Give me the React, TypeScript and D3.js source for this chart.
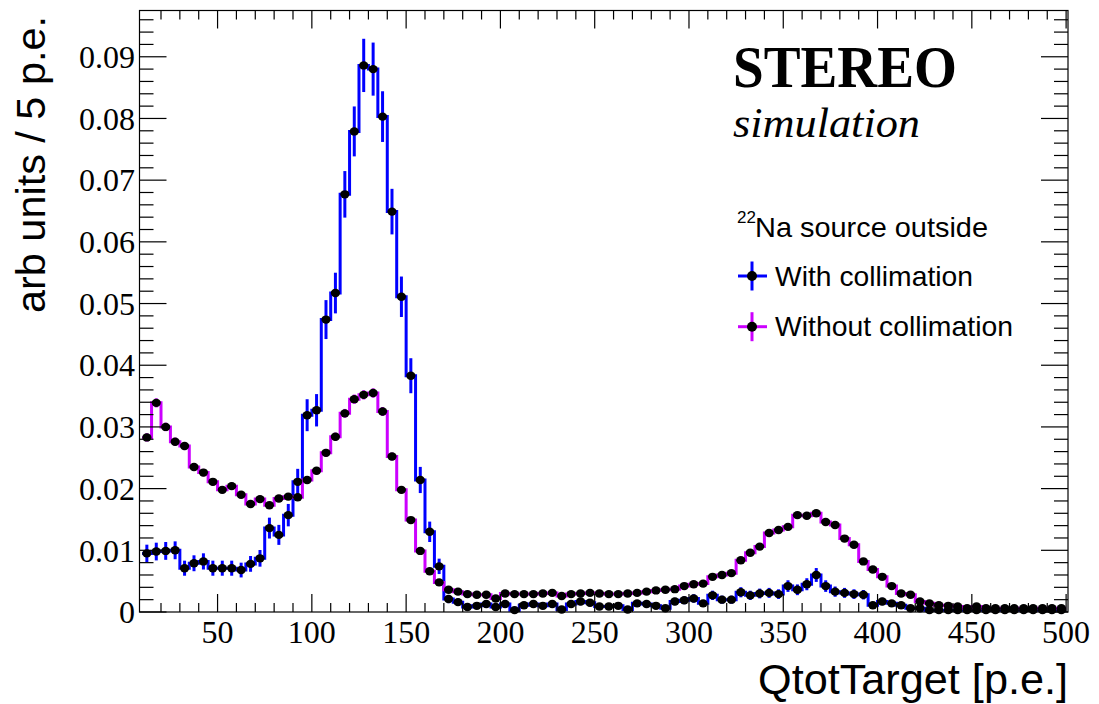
import React from 'react';
import * as d3 from 'd3';

// histogram binning: 5 p.e. bins starting at 10 p.e.
const binStart = 10;
const binWidth = 5;

// "With collimation" (blue), one value per 5 p.e. bin, 10 -> 500
const withCollimation = [
  0.0095, 0.0098, 0.0099, 0.0100, 0.0071, 0.0079, 0.0082, 0.0071, 0.0071, 0.0071,
  0.0068, 0.0078, 0.0087, 0.0136, 0.0125, 0.0157, 0.0211, 0.0319, 0.0327, 0.0474,
  0.0517, 0.0677, 0.0779, 0.0886, 0.0880, 0.0803, 0.0649, 0.0511, 0.0383, 0.0214,
  0.0130, 0.0074, 0.0021, 0.0016, 0.0008, 0.0010, 0.0013, 0.0008, 0.0013, 0.0003,
  0.0011, 0.0013, 0.0010, 0.0013, 0.0004, 0.0013, 0.0017, 0.0015, 0.0009, 0.0009,
  0.0010, 0.0004, 0.0014, 0.0013, 0.0010, 0.0006, 0.0017, 0.0019, 0.0022, 0.0014,
  0.0027, 0.0020, 0.0020, 0.0032, 0.0027, 0.0030, 0.0031, 0.0029, 0.0042, 0.0036,
  0.0045, 0.0060, 0.0042, 0.0033, 0.0031, 0.0029, 0.0028, 0.0011, 0.0017, 0.0014,
  0.0011, 0.0006, 0.0006, 0.0003, 0.0003, 0.0003, 0.0003, 0.0003, 0.0003, 0.0003,
  0.0003, 0.0003, 0.0003, 0.0003, 0.0003, 0.0003, 0.0003, 0.0003,
];

// "Without collimation" (magenta)
const withoutCollimation = [
  0.0283, 0.0339, 0.0300, 0.0276, 0.0269, 0.0235, 0.0226, 0.0211, 0.0198, 0.0204,
  0.0190, 0.0175, 0.0183, 0.0173, 0.0184, 0.0187, 0.0186, 0.0214, 0.0229, 0.0258,
  0.0284, 0.0322, 0.0345, 0.0352, 0.0355, 0.0325, 0.0252, 0.0198, 0.0149, 0.0099,
  0.0066, 0.0048, 0.0036, 0.0033, 0.0029, 0.0028, 0.0028, 0.0022, 0.0030, 0.0029,
  0.0029, 0.0029, 0.0030, 0.0031, 0.0026, 0.0029, 0.0030, 0.0031, 0.0030, 0.0029,
  0.0029, 0.0030, 0.0031, 0.0033, 0.0035, 0.0036, 0.0037, 0.0042, 0.0045, 0.0046,
  0.0057, 0.0060, 0.0063, 0.0084, 0.0096, 0.0106, 0.0128, 0.0133, 0.0138, 0.0157,
  0.0156, 0.0160, 0.0146, 0.0141, 0.0119, 0.0109, 0.0082, 0.0069, 0.0057, 0.0042,
  0.0030, 0.0028, 0.0017, 0.0014, 0.0011, 0.0010, 0.0009, 0.0006, 0.0009, 0.0006,
  0.0006, 0.0006, 0.0006, 0.0006, 0.0006, 0.0006, 0.0006, 0.0006,
];

// statistical error ~ k * sqrt(content)
const withErrScale = 0.0145;
const withoutErrScale = 0.004;

const xMajorTicks = [50, 100, 150, 200, 250, 300, 350, 400, 450, 500];
const yMajorTicks = [0, 0.01, 0.02, 0.03, 0.04, 0.05, 0.06, 0.07, 0.08, 0.09];
const yTickLabels = ['0', '0.01', '0.02', '0.03', '0.04', '0.05', '0.06', '0.07', '0.08', '0.09'];

const W = 1099;
const H = 704;
const left = 139.5;
const right = 1068;
const top = 10.5;
const bottom = 612;

const BLUE = '#0000ff';
const MAGENTA = '#cc00ff';

const x = d3.scaleLinear().domain([8.6, 501]).range([left, right]);
const y = d3.scaleLinear().domain([0, 0.0975]).range([bottom, top]);

const stepPath = (vals: number[]) => {
  const pts: [number, number][] = vals.map((v, i) => [binStart + i * binWidth, v]);
  pts.push([binStart + vals.length * binWidth, vals[vals.length - 1]]);
  return d3.line<[number, number]>()
    .x(d => x(d[0]))
    .y(d => y(d[1]))
    .curve(d3.curveStepAfter)(pts) || '';
};

const Series = ({ vals, color, errScale }: { vals: number[]; color: string; errScale: number }) => (
  <g>
    <path d={stepPath(vals)} fill="none" stroke={color} strokeWidth={3} />
    {vals.map((v, i) => {
      const cx = x(binStart + (i + 0.5) * binWidth);
      const e = errScale * Math.sqrt(v);
      return (
        <line key={i} x1={cx} x2={cx} y1={y(v + e)} y2={y(Math.max(0, v - e))}
          stroke={color} strokeWidth={3} />
      );
    })}
  </g>
);

const Markers = ({ vals }: { vals: number[] }) => (
  <g>
    {vals.map((v, i) => (
      <ellipse key={i} cx={x(binStart + (i + 0.5) * binWidth)} cy={y(v)} rx={4.6} ry={4.2} fill="#000" />
    ))}
  </g>
);

const App: React.FC = () => {
  const xMinor = d3.range(20, 500, 10).filter(t => t % 50 !== 0);
  const yMinor = d3.range(1, 49).map(k => k * 0.002).filter((_, k) => (k + 1) % 5 !== 0);

  return (
    <div style={{ position: 'absolute', left: 0, top: 0 }}>
      <svg width={W} height={H} style={{ display: 'block', background: '#fff' }}>
        {/* histograms */}
        <Series vals={withCollimation} color={BLUE} errScale={withErrScale} />
        <Series vals={withoutCollimation} color={MAGENTA} errScale={withoutErrScale} />
        <Markers vals={withCollimation} />
        <Markers vals={withoutCollimation} />

        {/* frame */}
        <rect x={left} y={top} width={right - left} height={bottom - top} fill="none" stroke="#000" strokeWidth={1.2} />

        {/* ticks on all four sides */}
        <g stroke="#000" strokeWidth={1.2}>
          {xMajorTicks.map(t => (
            <g key={'xM' + t}>
              <line x1={x(t)} x2={x(t)} y1={bottom} y2={bottom - 18} />
              <line x1={x(t)} x2={x(t)} y1={top} y2={top + 18} />
            </g>
          ))}
          {xMinor.map(t => (
            <g key={'xm' + t}>
              <line x1={x(t)} x2={x(t)} y1={bottom} y2={bottom - 9} />
              <line x1={x(t)} x2={x(t)} y1={top} y2={top + 9} />
            </g>
          ))}
          {yMajorTicks.map(t => (
            <g key={'yM' + t}>
              <line x1={left} x2={left + 27} y1={y(t)} y2={y(t)} />
              <line x1={right} x2={right - 27} y1={y(t)} y2={y(t)} />
            </g>
          ))}
          {yMinor.map(t => (
            <g key={'ym' + t}>
              <line x1={left} x2={left + 14} y1={y(t)} y2={y(t)} />
              <line x1={right} x2={right - 14} y1={y(t)} y2={y(t)} />
            </g>
          ))}
        </g>

        {/* tick labels */}
        <g fontFamily="'Liberation Serif', 'Times New Roman', serif" fontSize={32} fill="#000">
          {xMajorTicks.map(t => (
            <text key={'xl' + t} x={x(t)} y={643} textAnchor="middle">{t}</text>
          ))}
          {yMajorTicks.map((t, i) => (
            <text key={'yl' + t} x={135} y={y(t)} dy="0.35em" textAnchor="end">{yTickLabels[i]}</text>
          ))}
        </g>

        {/* axis titles */}
        <text x={1068} y={694} textAnchor="end" fontFamily="'Liberation Sans', Arial, sans-serif"
          fontSize={43} textLength={310} lengthAdjust="spacingAndGlyphs">QtotTarget [p.e.]</text>
        <text transform="translate(45,16) rotate(-90)" textAnchor="end"
          fontFamily="'Liberation Sans', Arial, sans-serif" fontSize={40}
          textLength={297} lengthAdjust="spacingAndGlyphs">arb units / 5 p.e.</text>

        {/* STEREO label */}
        <text x={733} y={87} fontFamily="'Liberation Serif', 'Times New Roman', serif" fontWeight="bold"
          fontSize={60} textLength={224} lengthAdjust="spacingAndGlyphs">STEREO</text>
        <text x={733} y={137} fontFamily="'Liberation Serif', 'Times New Roman', serif" fontStyle="italic"
          fontSize={43} textLength={187} lengthAdjust="spacingAndGlyphs">simulation</text>

        {/* legend */}
        <g fontFamily="'Liberation Sans', Arial, sans-serif" fill="#000">
          <text x={737} y={223} fontSize={17}>22</text>
          <text x={755} y={237} fontSize={28} textLength={233} lengthAdjust="spacingAndGlyphs">Na source outside</text>
          {[{ label: 'With collimation', color: BLUE, cy: 276, w: 198 }, { label: 'Without collimation', color: MAGENTA, cy: 326.7, w: 238 }].map(e => (
            <g key={e.label}>
              <line x1={738} x2={767} y1={e.cy} y2={e.cy} stroke={e.color} strokeWidth={3} />
              <line x1={752} x2={752} y1={e.cy - 14.5} y2={e.cy + 14.5} stroke={e.color} strokeWidth={3} />
              <circle cx={752} cy={e.cy} r={5} fill="#000" />
              <text x={775} y={e.cy + 9.5} fontSize={28} textLength={e.w} lengthAdjust="spacingAndGlyphs">{e.label}</text>
            </g>
          ))}
        </g>
      </svg>
    </div>
  );
};

export default App;
